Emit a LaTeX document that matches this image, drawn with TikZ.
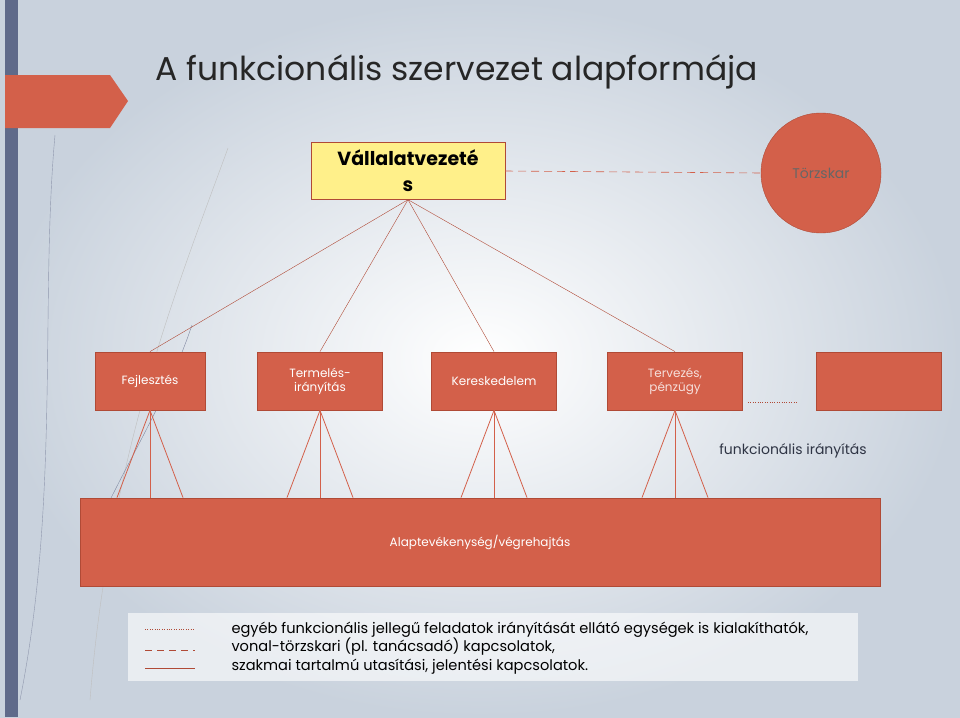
\documentclass[tikz,border=0pt]{standalone}
\usepackage{fontspec}
\setmainfont{Poppins}
\usetikzlibrary{positioning}
\definecolor{boxred}{HTML}{D3604A}
\definecolor{boxedge}{HTML}{B04A36}
\definecolor{headyellow}{HTML}{FFF08A}
\definecolor{sidebar}{HTML}{5F6A8A}
\definecolor{bgedge}{HTML}{C9D2DD}
\tikzset{unit/.style = {draw=boxedge,fill=boxred,thick,minimum width=125pt,minimum height=58pt,
  text=white,font=\fontsize{12}{14}\selectfont,align=center}}
\tikzset{link/.style = {draw=boxedge,thin}}

\begin{document}
\begin{tikzpicture}[x=1pt,y=-1pt]
\useasboundingbox (0,0) rectangle (960,717);
\shade[inner color=white,outer color=bgedge] (0,0) rectangle (960,717);
\fill[sidebar] (5,0) rectangle (18,717);
\draw[sidebar!70] (20,700) .. controls (60,500) and (40,300) .. (55,135);
\draw[gray!50] (90,700) .. controls (110,450) and (180,280) .. (228,148);
\draw[sidebar!80] (110,500) .. controls (140,440) and (170,390) .. (192,325);
\fill[boxred] (5,75) -- (110,75) -- (128,101) -- (110,128) -- (5,128) -- cycle;

\node[anchor=west,font=\fontsize{33}{36}\selectfont,text=black!85] (title) at (152,72) {A funkcionális szervezet alapformája};

\node[draw=boxedge,fill=headyellow,minimum width=194pt,minimum height=57pt,align=center,
  font=\bfseries\fontsize{19}{26}\selectfont] (ceo) at (408,171) {Vállalatvezeté\\s};
\node[circle,draw=boxedge,fill=boxred,minimum size=120pt,font=\fontsize{14}{15}\selectfont,text=black!60] (staff) at (821,173) {Törzskar};

\node[unit,minimum width=110pt] (dev) at (150,381) {Fejlesztés};
\node[unit] (prod) at (320,381) {Termelés-\\irányítás};
\node[unit] (trade) at (494,381) {Kereskedelem};
\node[unit,minimum width=135pt,text=white!80!boxred] (fin) at (675,381) {Tervezés,\\pénzügy};
\node[unit] (other) at (879,381) {};

\node[draw=boxedge,fill=boxred,thick,minimum width=800pt,minimum height=88pt,text=white,
  font=\fontsize{12}{14}\selectfont] (base) at (480,542) {Alaptevékenység/végrehajtás};
\node[font=\fontsize{14}{15}\selectfont,text=sidebar!50!black] (fnote) at (793,451) {funkcionális irányítás};

\foreach \u in {dev,prod,trade,fin} \draw[link] (ceo.south) -- (\u.north);
\draw[draw=boxred,semithick,dash pattern=on 8pt off 5pt] (ceo.east) -- (staff.west);
\path (fin.south east) ++(5,-8) coordinate (dotA) ++(50,0) coordinate (dotB);
\draw[link,dotted] (dotA) -- (dotB);

\foreach \u in {dev,prod,trade,fin}
  \foreach \d in {-33,0,33}{
    \path (\u.south |- base.north) ++(\d,0) coordinate (e);
    \draw[draw=boxred,thick] (\u.south) -- (e);
  }

\node[fill=white,fill opacity=0.6,text opacity=1,minimum width=730pt,minimum height=68pt] (legend) at (493,647) {};
\node[anchor=north west,align=left,font=\fontsize{14.6}{18.5}\selectfont] (ltext) at (228,618)
  {egyéb funkcionális jellegű feladatok irányítását ellátó egységek is kialakíthatók,\\
   vonal-törzskari (pl. tanácsadó) kapcsolatok,\\
   szakmai tartalmú utasítási, jelentési kapcsolatok.};
\coordinate (l1a) at (145,629); \coordinate (l1b) at (195,629);
\coordinate (l2a) at (145,650); \coordinate (l2b) at (195,650);
\coordinate (l3a) at (145,668); \coordinate (l3b) at (195,668);
\draw[link,dotted] (l1a) -- (l1b);
\draw[link,dashed,dash pattern=on 7pt off 5pt] (l2a) -- (l2b);
\draw[link] (l3a) -- (l3b);
\end{tikzpicture}
\end{document}
